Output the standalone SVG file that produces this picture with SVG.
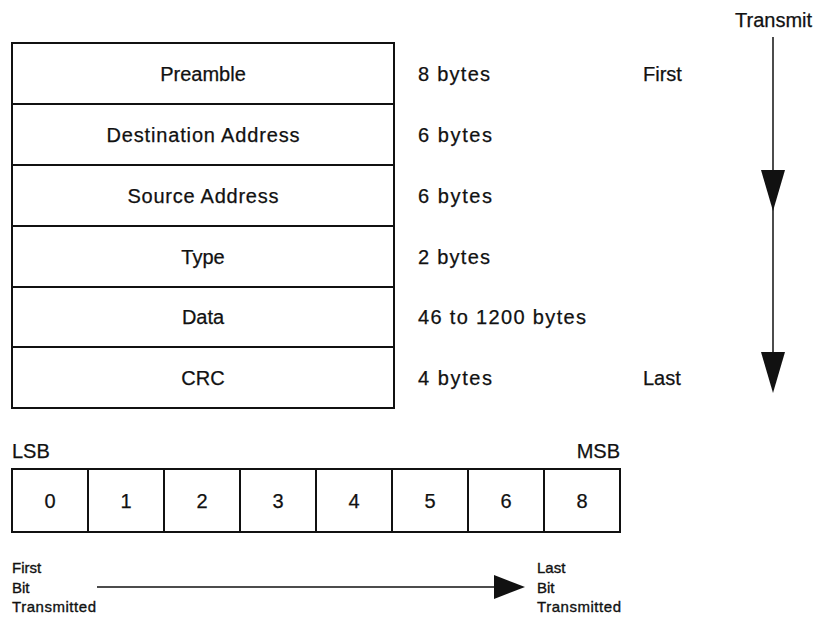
<svg xmlns="http://www.w3.org/2000/svg" width="818" height="618" viewBox="0 0 818 618">
  <style>
    .box { fill: #fff; stroke: #111; stroke-width: 2; }
    .lbl { font-family: "Liberation Sans", Arial, sans-serif; font-size: 20px; fill: #111; stroke: #111; stroke-width: 0.25; }
    .mid { text-anchor: middle; }
    .sm { font-family: "Liberation Sans", Arial, sans-serif; font-size: 15px; fill: #111; stroke: #111; stroke-width: 0.35; }
    .line { stroke: #111; stroke-width: 1.5; fill: none; }
    .head { fill: #111; }
  </style>
  <rect width="818" height="618" fill="#fff"/>

  <!-- frame fields -->
  <g id="field-preamble">
    <rect class="box" x="12" y="43" width="382" height="61"/>
    <text class="lbl mid" x="203" y="81">Preamble</text>
  </g>
  <g id="field-destination">
    <rect class="box" x="12" y="104" width="382" height="61"/>
    <text class="lbl mid" x="203" y="142" textLength="193" lengthAdjust="spacing">Destination Address</text>
  </g>
  <g id="field-source">
    <rect class="box" x="12" y="165" width="382" height="61"/>
    <text class="lbl mid" x="203" y="203" textLength="151" lengthAdjust="spacing">Source Address</text>
  </g>
  <g id="field-type">
    <rect class="box" x="12" y="226" width="382" height="61"/>
    <text class="lbl mid" x="203" y="264">Type</text>
  </g>
  <g id="field-data">
    <rect class="box" x="12" y="287" width="382" height="60"/>
    <text class="lbl mid" x="203" y="324">Data</text>
  </g>
  <g id="field-crc">
    <rect class="box" x="12" y="347" width="382" height="61"/>
    <text class="lbl mid" x="203" y="385">CRC</text>
  </g>

  <!-- field sizes -->
  <g id="sizes">
    <text class="lbl" x="418" y="81" textLength="72" lengthAdjust="spacing">8 bytes</text>
    <text class="lbl" x="418" y="142" textLength="74" lengthAdjust="spacing">6 bytes</text>
    <text class="lbl" x="418" y="203" textLength="74" lengthAdjust="spacing">6 bytes</text>
    <text class="lbl" x="418" y="264" textLength="72" lengthAdjust="spacing">2 bytes</text>
    <text class="lbl" x="418" y="324" textLength="168" lengthAdjust="spacing">46 to 1200 bytes</text>
    <text class="lbl" x="418" y="385" textLength="74" lengthAdjust="spacing">4 bytes</text>
    <text class="lbl" x="643" y="81">First</text>
    <text class="lbl" x="643" y="385">Last</text>
  </g>

  <!-- transmit order -->
  <g id="transmit">
    <text class="lbl" x="735" y="27">Transmit</text>
  </g>

  <!-- byte bits -->
  <g id="bits">
    <text class="lbl" x="12" y="458">LSB</text>
    <text class="lbl" x="620" y="458" text-anchor="end">MSB</text>
    <g id="bit-0"><rect class="box" x="12" y="469" width="76" height="63"/><text class="lbl mid" x="50" y="508">0</text></g>
    <g id="bit-1"><rect class="box" x="88" y="469" width="76" height="63"/><text class="lbl mid" x="126" y="508">1</text></g>
    <g id="bit-2"><rect class="box" x="164" y="469" width="76" height="63"/><text class="lbl mid" x="202" y="508">2</text></g>
    <g id="bit-3"><rect class="box" x="240" y="469" width="76" height="63"/><text class="lbl mid" x="278" y="508">3</text></g>
    <g id="bit-4"><rect class="box" x="316" y="469" width="76" height="63"/><text class="lbl mid" x="354" y="508">4</text></g>
    <g id="bit-5"><rect class="box" x="392" y="469" width="76" height="63"/><text class="lbl mid" x="430" y="508">5</text></g>
    <g id="bit-6"><rect class="box" x="468" y="469" width="76" height="63"/><text class="lbl mid" x="506" y="508">6</text></g>
    <g id="bit-7"><rect class="box" x="544" y="469" width="76" height="63"/><text class="lbl mid" x="582" y="508">8</text></g>
  </g>

  <g id="first-bit">
    <text class="sm" x="12" y="573">First</text>
    <text class="sm" x="12" y="593">Bit</text>
    <text class="sm" x="12" y="612" textLength="84" lengthAdjust="spacing">Transmitted</text>
  </g>
  <g id="last-bit">
    <text class="sm" x="537" y="573">Last</text>
    <text class="sm" x="537" y="593">Bit</text>
    <text class="sm" x="537" y="612" textLength="84" lengthAdjust="spacing">Transmitted</text>
  </g>

  <!-- connectors -->
  <g id="connectors">
    <line class="line" x1="773" y1="37" x2="773" y2="375"/>
    <polygon class="head" points="761,170 785,170 773,211"/>
    <polygon class="head" points="761,352 785,352 773,393"/>
    <line class="line" x1="97" y1="587" x2="500" y2="587"/>
    <polygon class="head" points="494,575 494,599 525,587"/>
  </g>
</svg>
